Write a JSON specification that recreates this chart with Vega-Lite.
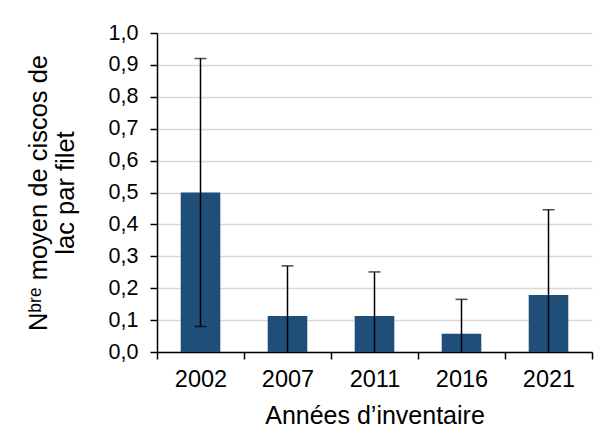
{
  "$schema": "https://vega.github.io/schema/vega-lite/v6.json",
  "width": 435,
  "height": 319,
  "autosize": "none",
  "padding": {"left": 157, "top": 33, "right": 15, "bottom": 79},
  "background": "white",
  "config": {
    "view": {"stroke": null},
    "font": "Liberation Sans",
    "axis": {"labelFont": "Liberation Sans", "titleFont": "Liberation Sans", "labelColor": "#000000", "titleColor": "#000000", "titleFontWeight": "normal", "domainColor": "#000000", "tickColor": "#000000", "domainWidth": 1.5, "tickWidth": 1.5},
    "axisY": {
      "tickCount": 10, "labelOverlap": false, "labelFontSize": 21.5, "labelPadding": 12, "tickSize": 7,
      "grid": true, "gridColor": "#d9d9d9", "gridWidth": 1.3,
      "titleFontSize": 25.5, "titlePadding": 30, "titleLineHeight": 27
    }
  },
  "data": {
    "values": [
      {"annee": "2002", "moyenne": 0.50, "bas": 0.08, "haut": 0.92},
      {"annee": "2007", "moyenne": 0.113, "bas": 0.0, "haut": 0.27},
      {"annee": "2011", "moyenne": 0.113, "bas": 0.0, "haut": 0.251},
      {"annee": "2016", "moyenne": 0.057, "bas": 0.0, "haut": 0.165},
      {"annee": "2021", "moyenne": 0.179, "bas": 0.0, "haut": 0.446}
    ]
  },
  "encoding": {
    "x": {
      "field": "annee", "type": "nominal", "sort": null,
      "scale": {"paddingInner": 0, "paddingOuter": 0},
      "axis": {
        "title": "Années d’inventaire", "titleFontSize": 25, "titlePadding": 13,
        "labelFontSize": 23.5, "labelAngle": 0, "labelPadding": 8,
        "tickBand": "extent", "tickSize": 7, "grid": false
      }
    }
  },
  "layer": [
    {
      "mark": {"type": "bar", "color": "#1F4E79", "width": {"band": 0.455}},
      "encoding": {
        "y": {
          "field": "moyenne", "type": "quantitative",
          "scale": {"domain": [0, 1], "nice": false},
          "axis": {
            "title": ["Nᵇʳᵉ moyen de ciscos de", "lac par filet"],
            "labelExpr": "replace(format(datum.value, '.1f'), '.', ',')"
          }
        }
      }
    },
    {
      "mark": {"type": "rule", "color": "#000000", "strokeWidth": 1.5},
      "encoding": {
        "y": {"field": "bas", "type": "quantitative"},
        "y2": {"field": "haut"}
      }
    },
    {
      "mark": {"type": "tick", "color": "#000000", "thickness": 1.5, "size": 12},
      "encoding": {
        "y": {"field": "haut", "type": "quantitative"}
      }
    },
    {
      "transform": [{"filter": "datum.bas > 0"}],
      "mark": {"type": "tick", "color": "#000000", "thickness": 1.5, "size": 12},
      "encoding": {
        "y": {"field": "bas", "type": "quantitative"}
      }
    }
  ]
}
